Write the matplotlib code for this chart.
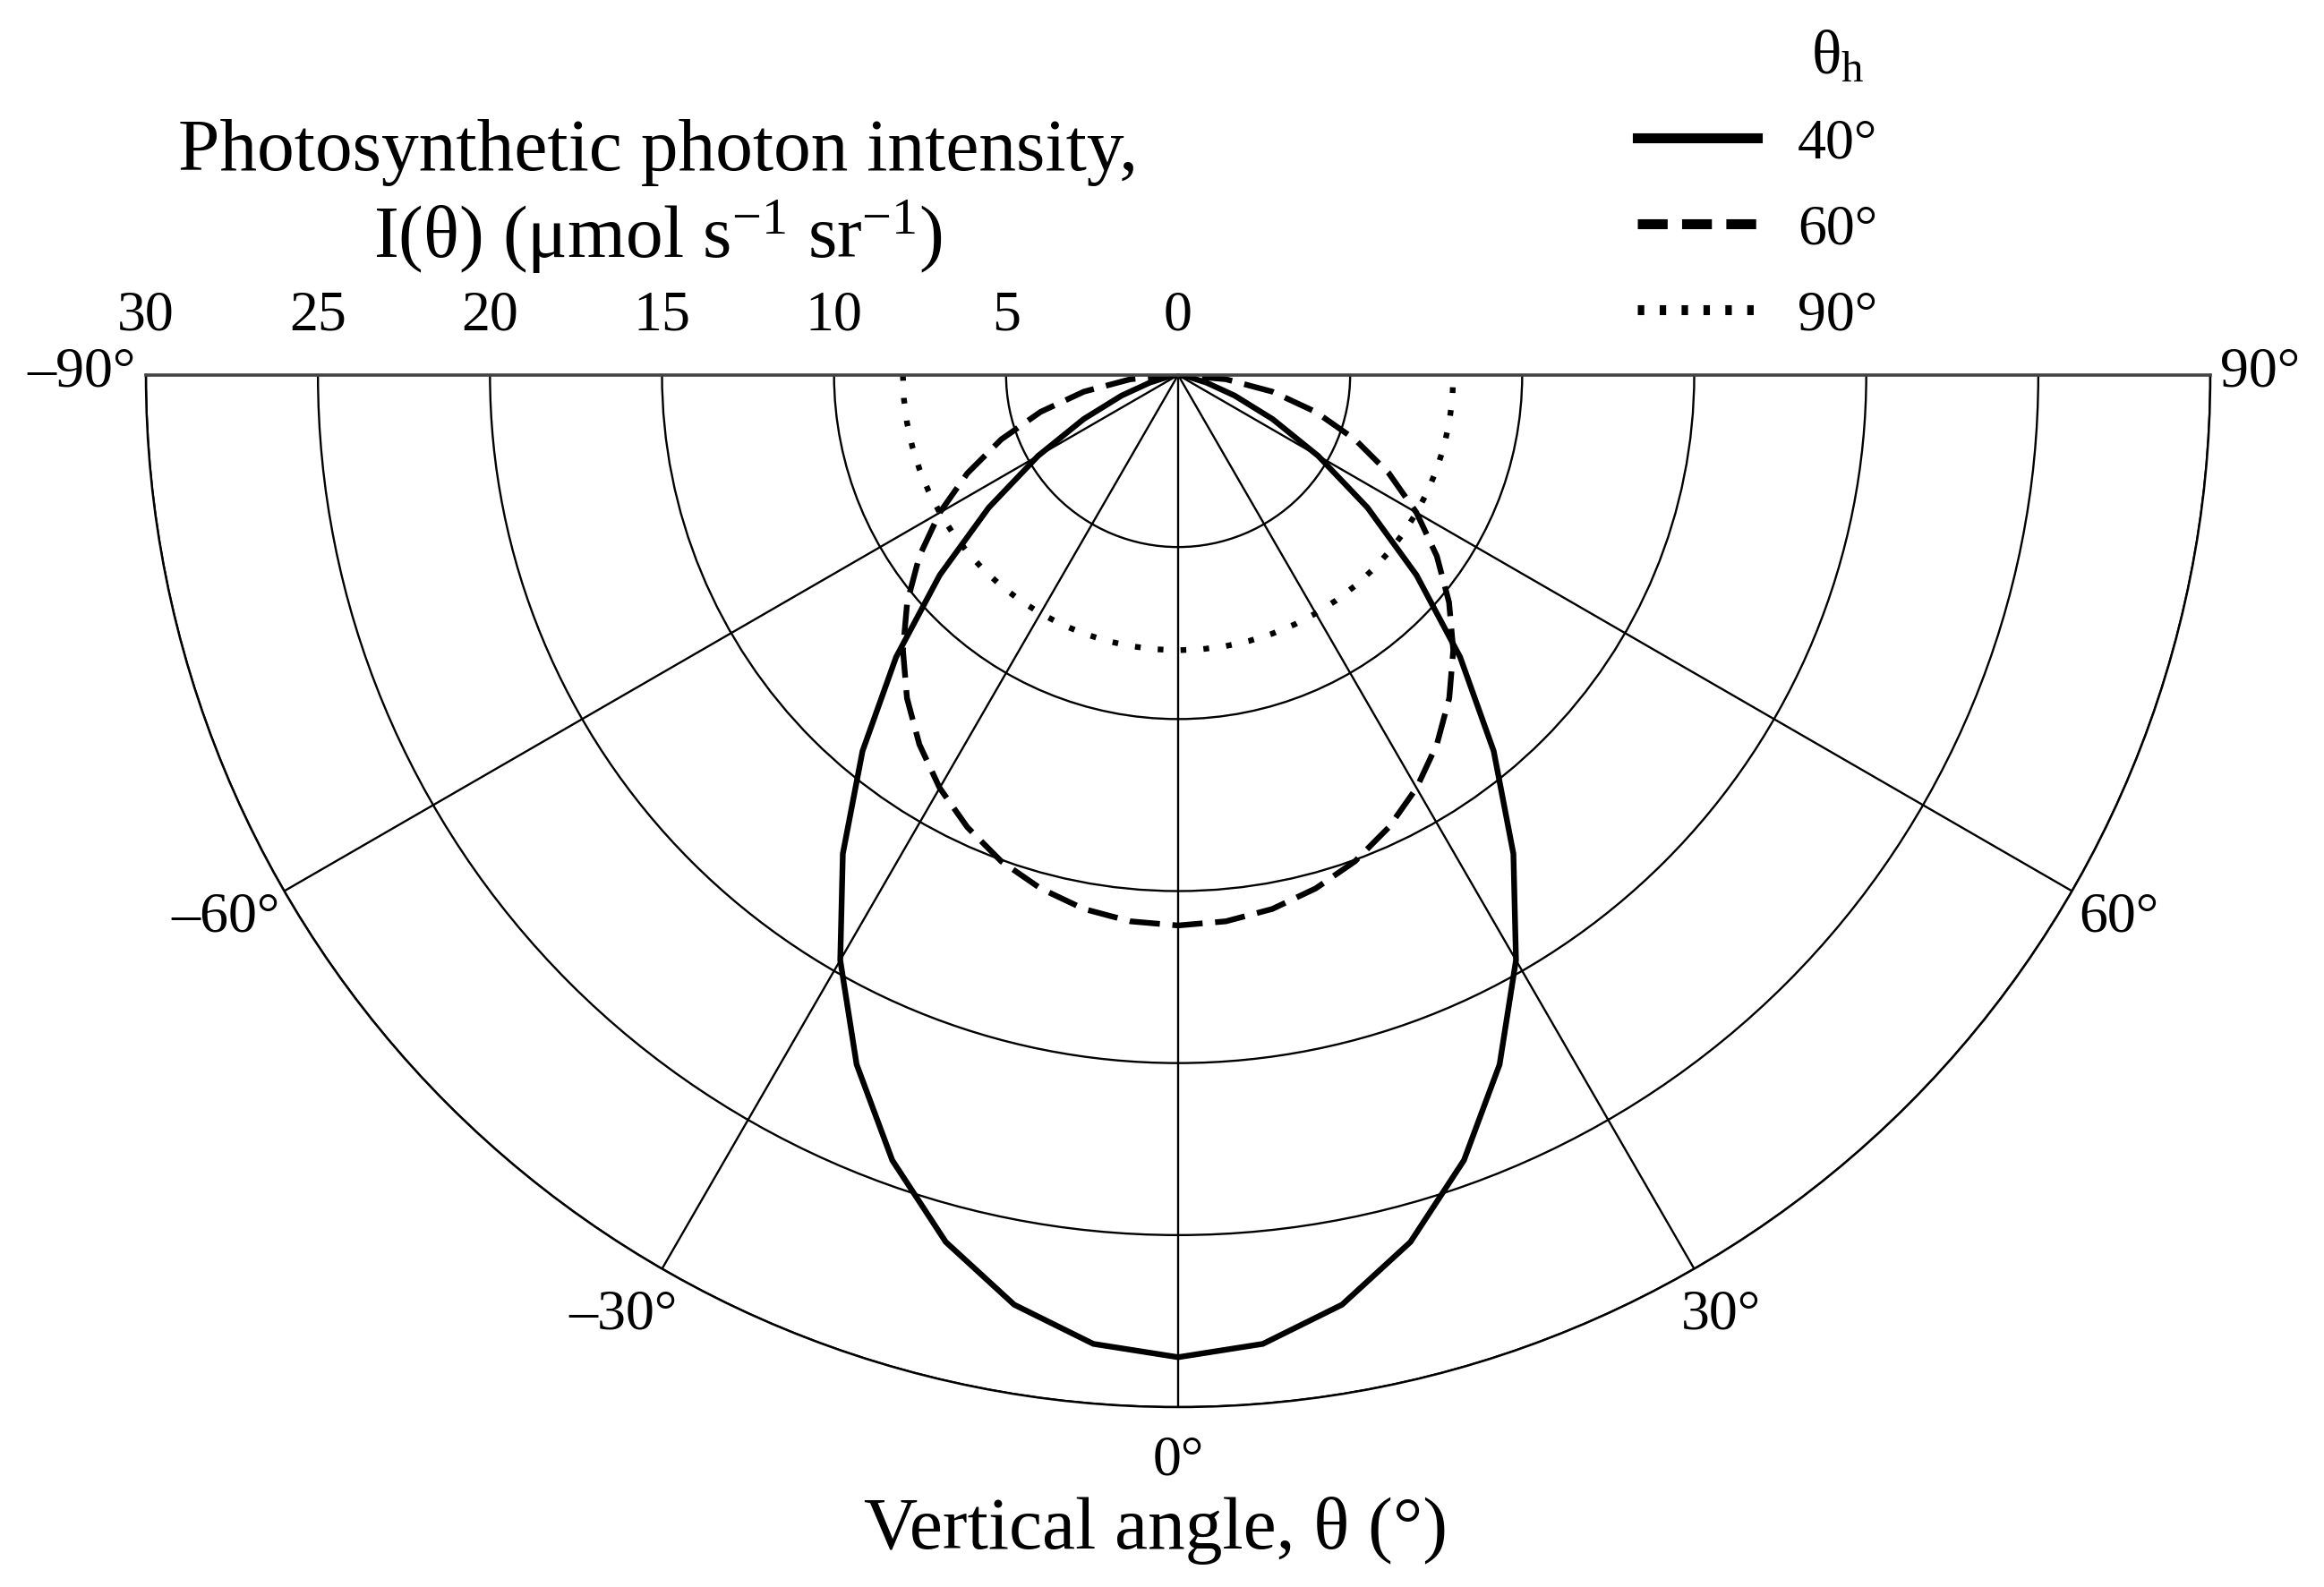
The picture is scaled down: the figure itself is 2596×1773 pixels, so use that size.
import numpy as np
import matplotlib
matplotlib.use("Agg")
import matplotlib.pyplot as plt

plt.rcParams['font.family'] = ['Liberation Serif', 'DejaVu Serif']
plt.rcParams['mathtext.fontset'] = 'custom'
plt.rcParams['mathtext.rm'] = 'Liberation Serif'
plt.rcParams['mathtext.it'] = 'Liberation Serif:italic'

# ---------------- data ----------------
angles_deg = [-90, -85, -80, -75, -70, -65, -60, -55, -50, -45, -40, -35, -30, -25, -20, -15, -10, -5,
              0, 5, 10, 15, 20, 25, 30, 35, 40, 45, 50, 55, 60, 65, 70, 75, 80, 85, 90]

# theta_h = 40 deg (solid)
I_40 = [0.0, 0.05, 0.3, 0.85, 1.75, 3.03, 4.70, 6.72, 9.04, 11.59, 14.27, 16.99, 19.64, 22.11, 24.29, 26.09, 27.44, 28.27,
        28.55, 28.27, 27.44, 26.09, 24.29, 22.11, 19.64, 16.99, 14.27, 11.59, 9.04, 6.72, 4.70, 3.03, 1.75, 0.85, 0.3, 0.05, 0.0]
# theta_h = 60 deg (dashed)
I_60 = [0.0, 1.39, 2.78, 4.14, 5.47, 6.76, 8.0, 9.18, 10.28, 11.31, 12.26, 13.11, 13.86, 14.50, 15.04, 15.45, 15.76, 15.94,
        16.0, 15.94, 15.76, 15.45, 15.04, 14.50, 13.86, 13.11, 12.26, 11.31, 10.28, 9.18, 8.0, 6.76, 5.47, 4.14, 2.78, 1.39, 0.0]
# theta_h = 90 deg (dotted)
I_90 = [8.0] * 37

series_labels = ['40°', '60°', '90°']

r_ticks = [5, 10, 15, 20, 25, 30]
r_tick_labels = [0, 5, 10, 15, 20, 25, 30]
theta_ticks = [-90, -60, -30, 0, 30, 60, 90]
theta_tick_labels = ['\u201390°', '\u201360°', '\u201330°', '0°', '30°', '60°', '90°']

# ---------------- figure ----------------
W, H = 2596, 1773
DPI = 200
fig = plt.figure(figsize=(W / DPI, H / DPI), dpi=DPI)

# half-disc centre (cx, cy) and radius R in pixels (from top-left)
cx, cy, R = 1316, 419, 1153
# square box of side 2R; matplotlib places the half disc in its vertical middle
ax = fig.add_axes([(cx - R) / W, 1 - (cy + 1.5 * R) / H, 2 * R / W, 2 * R / H], projection='polar')
ax.set_theta_zero_location('S')
ax.set_theta_direction(1)
ax.set_thetamin(-90)
ax.set_thetamax(90)
ax.set_rlim(0, 30)
ax.set_rticks(r_ticks)
ax.set_yticklabels([])
ax.set_xticks(np.deg2rad(theta_ticks))
ax.set_xticklabels([])
ax.tick_params(axis='both', length=0)
ax.grid(True, color='black', lw=0.85)
ax.spines['polar'].set_color('black')
ax.spines['polar'].set_linewidth(0.9)
for s in ('start', 'end'):
    ax.spines[s].set_color('#444444')
    ax.spines[s].set_linewidth(1.3)

th = np.deg2rad(angles_deg)
l1, = ax.plot(th, I_40, color='black', lw=2.3, ls='-', label=series_labels[0], solid_joinstyle='miter')
l2, = ax.plot(th, I_60, color='black', lw=2.3, ls=(0, (5.3, 2.2)), label=series_labels[1])
l3, = ax.plot(th, I_90, color='black', lw=2.3, ls=(0, (1.0, 3.0)), label=series_labels[2])

# radial labels above the straight edge
for r in r_tick_labels:
    ax.annotate(str(r), xy=(np.deg2rad(-90), r), xytext=(0, 23.5), textcoords='offset points',
                ha='center', va='center', fontsize=23, annotation_clip=False)

# angle labels
for ang, lab in zip(theta_ticks, theta_tick_labels):
    t = np.deg2rad(ang)
    if ang == -90:
        ax.annotate(lab, xy=(t, 30), xytext=(-4, 1), textcoords='offset points',
                    ha='right', va='center', fontsize=23, annotation_clip=False)
    elif ang == 90:
        ax.annotate(lab, xy=(t, 30), xytext=(4, 1), textcoords='offset points',
                    ha='left', va='center', fontsize=23, annotation_clip=False)
    else:
        d = 21.6
        dx = d * np.sin(t)
        dy = -d * np.cos(t)
        if ang < 0:
            dx -= 5.0
        ax.annotate(lab, xy=(t, 30), xytext=(dx, dy), textcoords='offset points',
                    ha='center', va='center', fontsize=23, annotation_clip=False)

# titles
fig.text(735 / W, 1 - 170 / H, 'Photosynthetic photon intensity,', ha='center', va='center', fontsize=30)
fig.text(735 / W, 1 - 265 / H, 'I(θ) (μmol s$^{\\mathregular{-1}}$ sr$^{\\mathregular{-1}}$)', ha='center', va='center', fontsize=30)
fig.text(1291 / W, 1 - 1710 / H, 'Vertical angle, θ (°)', ha='center', va='center', fontsize=30)

# legend
fig.text(2053 / W, 1 - 66 / H, 'θ$_{\\mathregular{h}}$', ha='center', va='center', fontsize=25)
leg = fig.legend(handles=[l1, l2, l3], loc='upper left', bbox_to_anchor=(1829 / W, 1 - 132 / H),
                 frameon=False, fontsize=23, handlelength=2.1, handletextpad=0.7, labelspacing=0.58,
                 borderpad=0, borderaxespad=0)
lh = leg.get_lines()
lh[0].set_linewidth(4.0)
lh[1].set_linewidth(4.0)
lh[1].set_linestyle((0, (3.0, 1.45)))
lh[2].set_linewidth(4.0)
lh[2].set_linestyle((0, (0.65, 1.55)))

fig.savefig('out.png', dpi=DPI)
